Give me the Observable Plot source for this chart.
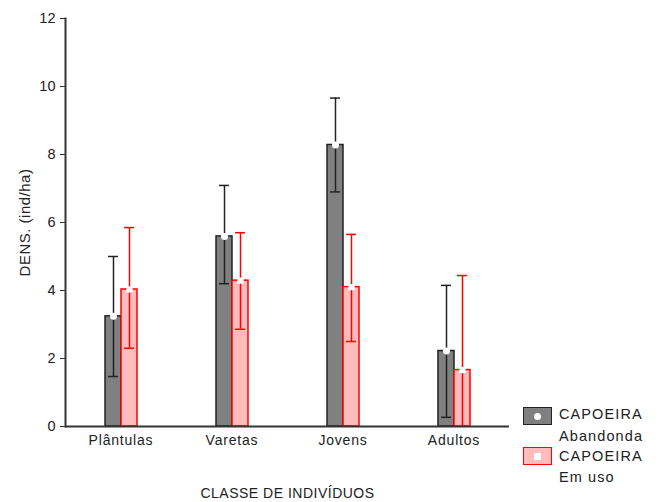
<!DOCTYPE html>
<html><head><meta charset="utf-8">
<script src="https://cdn.jsdelivr.net/npm/d3@7"></script>
<script src="https://cdn.jsdelivr.net/npm/@observablehq/plot@0.6"></script>
<style>
body{margin:0;background:#fff}
#chart{position:relative;width:662px;height:502px;font-family:"Liberation Sans",Arial,sans-serif}
#chart svg g[aria-label="fx-axis tick label"]{font-size:14px;letter-spacing:0.8px}
#chart svg g[aria-label="fx-axis label"]{font-size:14px;letter-spacing:0.5px}
#chart svg g[aria-label="y-axis label"]{font-size:15px;letter-spacing:0.5px}
#chart svg g[aria-label="y-axis tick label"]{font-size:14.5px}
.leg{position:absolute;left:523px;width:29px;height:18px;box-sizing:border-box}
.leg1{top:407px;background:#808080;border:1.5px solid #222}
.leg2{top:447px;background:#ffbcbc;border:1.5px solid #ff0000}
.leg1::after{content:"";position:absolute;left:50%;top:50%;width:7px;height:7px;margin:-3.5px 0 0 -3.5px;border-radius:50%;background:#fff}
.leg2::after{content:"";position:absolute;left:50%;top:50%;width:7px;height:7px;margin:-3.5px 0 0 -3.5px;background:#fff}
.lt{position:absolute;left:559px;font-size:14.5px;letter-spacing:1.1px;color:#222;line-height:16px}
</style>
</head><body><div id="chart"></div><script>
const categories = ["Plântulas","Varetas","Jovens","Adultos"];
const series = ["CAPOEIRA Abandonda","CAPOEIRA Em uso"];
const abandonadaMean  = [3.24, 5.59, 8.28, 2.22];
const abandonadaUpper = [5.00, 7.09, 9.66, 4.15];
const abandonadaLower = [1.47, 4.20, 6.90, 0.27];
const emUsoMean  = [4.03, 4.29, 4.10, 1.66];
const emUsoUpper = [5.85, 5.70, 5.65, 4.44];
const emUsoLower = [2.30, 2.86, 2.50, -1.10];
const yTicks = [0, 2, 4, 6, 8, 10, 12];

const rowsA = categories.map((c,i)=>({cat:c, s:series[0], mean:abandonadaMean[i], lo:abandonadaLower[i], hi:abandonadaUpper[i]}));
const rowsB = categories.map((c,i)=>({cat:c, s:series[1], mean:emUsoMean[i], lo:emUsoLower[i], hi:emUsoUpper[i]}));

const dark = "#222", gray = "#808080", red = "#ff0000", pink = "#ffbcbc";

const plot = Plot.plot({
  width: 662, height: 502,
  marginLeft: 65, marginRight: 153, marginTop: 18, marginBottom: 76,
  style: {fontFamily: '"Liberation Sans", Arial, sans-serif', fontSize: "14px", color: "#222", background: "#fff"},
  x: {domain: series, paddingInner: 0, paddingOuter: 2.36, axis: null},
  fx: {domain: categories, padding: 0, label: null, axis: null},
  y: {domain: [0, 12], axis: null},
  marks: [
    Plot.barY(rowsA, {fx: "cat", x: "s", y: "mean", fill: gray, stroke: dark, strokeWidth: 1.5}),
    Plot.barY(rowsB, {fx: "cat", x: "s", y: "mean", fill: pink, stroke: red, strokeWidth: 1.5}),
    Plot.ruleX(rowsA, {fx: "cat", x: "s", y1: "lo", y2: "hi", stroke: dark, strokeWidth: 1.5}),
    Plot.ruleX(rowsB, {fx: "cat", x: "s", y1: d => Math.max(0, d.lo), y2: "hi", stroke: red, strokeWidth: 1.5}),
    Plot.tickY(rowsA, {fx: "cat", x: "s", y: "hi", stroke: dark, strokeWidth: 1.5, insetLeft: 3, insetRight: 3}),
    Plot.tickY(rowsA, {fx: "cat", x: "s", y: "lo", stroke: dark, strokeWidth: 1.5, insetLeft: 3, insetRight: 3}),
    Plot.tickY(rowsB, {fx: "cat", x: "s", y: "hi", stroke: red, strokeWidth: 1.5, insetLeft: 3, insetRight: 3}),
    Plot.tickY(rowsB.filter(d => d.lo >= 0), {fx: "cat", x: "s", y: "lo", stroke: red, strokeWidth: 1.5, insetLeft: 3, insetRight: 3}),
    Plot.dot(rowsA, {fx: "cat", x: "s", y: "mean", symbol: "circle", r: 3.5, fill: "#fff"}),
    Plot.dot(rowsB, {fx: "cat", x: "s", y: "mean", symbol: "square", r: 3.5, fill: "#fff"}),
    Plot.ruleY([0], {stroke: "#333", strokeWidth: 2}),
    Plot.frame({anchor: "left", facetAnchor: "left", stroke: "#333", strokeWidth: 2}),
    Plot.axisY({ticks: yTicks, tickSize: 5, tickPadding: 5, stroke: "#333", label: "DENS. (ind/ha)", labelAnchor: "center", labelArrow: "none", labelOffset: 46}),
    Plot.axisFx({anchor: "bottom", tickSize: 0, tickPadding: 9, label: "CLASSE DE INDIVÍDUOS", labelAnchor: "center", labelArrow: "none", labelOffset: 71})
  ]
});
const chart = document.getElementById("chart");
chart.appendChild(plot);
chart.insertAdjacentHTML("beforeend", `
<div class="leg leg1"></div><div class="leg leg2"></div>
<div class="lt" style="top:406px">CAPOEIRA</div>
<div class="lt" style="top:428px">Abandonda</div>
<div class="lt" style="top:448px">CAPOEIRA</div>
<div class="lt" style="top:469px">Em uso</div>`);
</script></body></html>
